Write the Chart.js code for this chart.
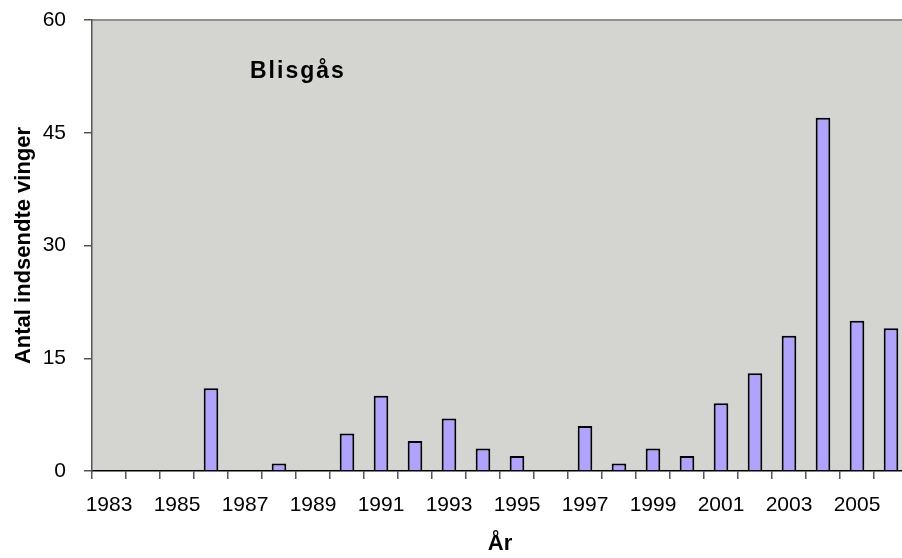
<!DOCTYPE html>
<html>
<head>
<meta charset="utf-8">
<script src="https://cdn.jsdelivr.net/npm/chart.js@4"></script>
<style>
  html, body { margin: 0; padding: 0; background: #fff; overflow: hidden; }
  #wrap { width: 920px; height: 558px; }
</style>
</head>
<body>
<div id="wrap"><canvas id="chart" width="920" height="558"></canvas></div>
<script>
// år og antal indsendte vinger (blisgås)
const years = ['1983', '1984', '1985', '1986', '1987', '1988', '1989', '1990', '1991', '1992', '1993', '1994',
               '1995', '1996', '1997', '1998', '1999', '2000', '2001', '2002', '2003', '2004', '2005', '2006'];
const wings = [0, 0, 0, 11, 0, 1, 0, 5, 10, 4, 7, 3,
               2, 0, 6, 1, 3, 2, 9, 13, 18, 47, 20, 19];
const yTicks = [0, 15, 30, 45, 60];
const speciesLabel = 'Blisgås';

const FONT = "'Liberation Sans', Arial, sans-serif";

// baggrund i plotområdet + overskrift inde i grafen
const plotBackground = {
    id: 'plotBackground',
    beforeDraw(chart) {
        const { ctx, chartArea: a } = chart;
        ctx.save();
        ctx.fillStyle = '#D4D5D0';
        ctx.fillRect(a.left, a.top, a.right - a.left, a.bottom - a.top);
        ctx.strokeStyle = '#8F8F8F';
        ctx.lineWidth = 2;
        ctx.beginPath();
        ctx.moveTo(a.left, a.top);
        ctx.lineTo(a.right, a.top);
        ctx.lineTo(a.right, a.bottom);
        ctx.stroke();
        ctx.restore();
    },
    afterDatasetsDraw(chart) {
        const { ctx } = chart;
        ctx.save();
        ctx.font = 'bold 23px ' + FONT;
        ctx.letterSpacing = '2px';
        ctx.fillStyle = '#000';
        ctx.textBaseline = 'alphabetic';
        ctx.fillText(speciesLabel, 250, 78);
        ctx.restore();
    }
};

new Chart(document.getElementById('chart'), {
    type: 'bar',
    data: {
        labels: years,
        datasets: [{
            data: wings,
            backgroundColor: '#AFA3FF',
            borderColor: '#000',
            borderWidth: 2,
            categoryPercentage: 1,
            barPercentage: 0.43
        }]
    },
    options: {
        responsive: false,
        animation: false,
        layout: { padding: { top: 20, right: 12, left: 0, bottom: 0 } },
        plugins: { legend: { display: false }, tooltip: { enabled: false } },
        scales: {
            x: {
                afterFit: s => { s.height = 87; s.paddingLeft = 0; s.paddingRight = 0; },
                grid: { drawOnChartArea: false, drawTicks: true, tickLength: 8, color: '#555', lineWidth: 1.5, offset: true },
                border: { color: '#000', width: 1.5 },
                ticks: {
                    autoSkip: false,
                    maxRotation: 0,
                    padding: 14,
                    color: '#000',
                    font: { family: FONT, size: 21 },
                    callback: (v, i) => (i % 2 === 0 ? years[i] : '')
                },
                title: {
                    display: true,
                    text: 'År',
                    color: '#000',
                    font: { family: FONT, size: 22, weight: 'bold' },
                    padding: { top: 0, bottom: 1 }
                }
            },
            y: {
                min: 0,
                max: 60,
                afterFit: s => { s.width = 92; s.paddingTop = 0; s.paddingBottom = 0; },
                afterBuildTicks: s => { s.ticks = yTicks.map(v => ({ value: v })); },
                grid: { drawOnChartArea: false, drawTicks: true, tickLength: 8, color: '#555', lineWidth: 1.5 },
                border: { color: '#555', width: 1.5 },
                ticks: {
                    padding: 18,
                    color: '#000',
                    font: { family: FONT, size: 21 }
                },
                title: {
                    display: true,
                    text: 'Antal indsendte vinger',
                    color: '#000',
                    font: { family: FONT, size: 22, weight: 'bold' },
                    padding: { top: 11, bottom: 0 }
                }
            }
        }
    },
    plugins: [plotBackground]
});
</script>
</body>
</html>
